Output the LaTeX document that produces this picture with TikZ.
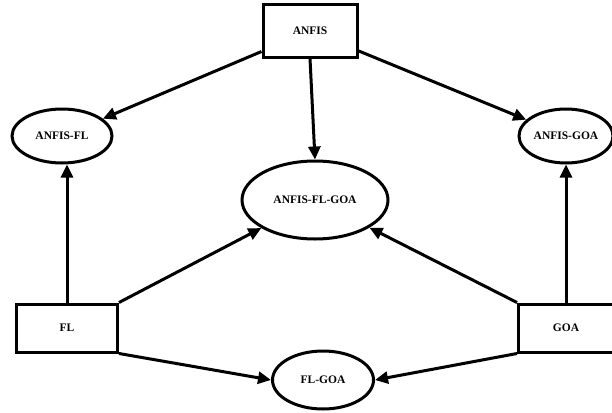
\documentclass[tikz,border=0pt]{standalone}
\usepackage{fontspec}
\setmainfont{Liberation Serif}
\usetikzlibrary{arrows.meta}
\usetikzlibrary{shapes.geometric}
\tikzset{
      model/.style={draw=black, line width=3, inner sep=0, font=\bfseries\fontsize{11.5}{13}\selectfont},
      hybrid/.style={ellipse, draw=black, line width=3, inner sep=0, font=\bfseries\fontsize{11.5}{13}\selectfont},
      link/.style={draw=black, line width=3, -{Triangle[length=13pt,width=12pt]}},
}
\begin{document}
\begin{tikzpicture}[x=1pt,y=-1pt]

        \useasboundingbox (0,0) rectangle (612,412) ;

        \node[model, minimum width=94, minimum height=52] (anfis) at (310,31) {ANFIS} ;
        \node[model, minimum width=101, minimum height=48] (fl) at (67,328) {FL} ;
        \node[model, minimum width=95, minimum height=48] (goa) at (566,328) {GOA} ;

        \node[hybrid, minimum width=100, minimum height=54] (anfisfl) at (62,136) {ANFIS-FL} ;
        \node[hybrid, minimum width=94, minimum height=54] (anfisgoa) at (566,136) {ANFIS-GOA} ;
        \node[hybrid, minimum width=146, minimum height=78] (afg) at (315,200) {ANFIS-FL-GOA} ;
        \node[hybrid, minimum width=101, minimum height=58] (flgoa) at (323,380) {FL-GOA} ;

        \draw[link] (anfis) -- (anfisfl) ;
        \draw[link] (anfis) -- (anfisgoa) ;
        \draw[link] (anfis.south) -- (afg.north) ;

        \draw[link] (fl.north) -- (fl.north |- anfisfl.south) ;
        \draw[link] (goa.north) -- (anfisgoa.south) ;

        \draw[link] (fl.north east) -- (afg) ;
        \draw[link] (goa.north west) -- (afg) ;
        \draw[link] (fl.south east) -- (flgoa.west) ;
        \draw[link] (goa.south west) -- (flgoa.east) ;

    \end{tikzpicture}
\end{document}
